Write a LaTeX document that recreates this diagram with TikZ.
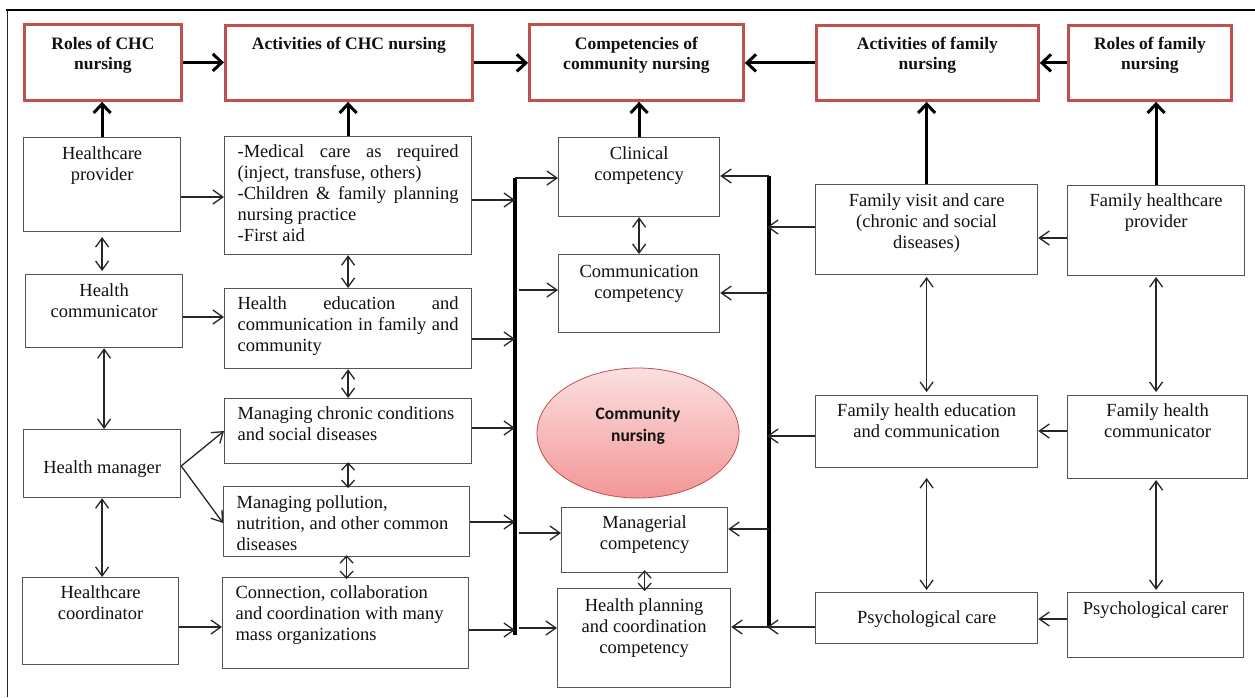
\documentclass[tikz,border=0pt]{standalone}
\usepackage{fontspec}
\setmainfont{Liberation Serif}
\newfontfamily\calib{Carlito}
\usetikzlibrary{arrows.meta,shapes.geometric}
\definecolor{redb}{HTML}{C0504D}
\definecolor{boxc}{HTML}{555555}
\definecolor{arrc}{HTML}{262626}
\definecolor{txtc}{HTML}{111111}
\newcommand{\bodyf}{\fontsize{18.5}{21}\selectfont}
\newcommand{\titf}{\fontsize{17.5}{20}\selectfont\bfseries}
% centred cell: width, height, top pad, text
\newcommand{\CB}[4]{\parbox[c][#2pt][t]{#1pt}{\vspace*{#3pt}\centering\strut #4\par}}
% left cell: width, height, top pad, text
\newcommand{\LB}[4]{\parbox[c][#2pt][t]{#1pt}{\vspace*{#3pt}\hspace*{13pt}\parbox[t]{\dimexpr#1pt-26pt\relax}{\strut #4}}}
\newcommand{\JL}[1]{\makebox[\linewidth][s]{#1}}
\begin{document}
\begin{tikzpicture}[x=1pt,y=-1pt,
  bx/.style={draw=boxc, line width=1.2pt, inner sep=0pt, anchor=north west, font=\bodyf, text=txtc},
  rbx/.style={draw=redb, line width=2.8pt, inner sep=0pt, anchor=north west, font=\titf, text=txtc},
  thk/.style={draw=black, line width=3pt, -{Straight Barb[length=9pt,width=17pt]}},
  ar/.style={draw=arrc, line width=1.3pt, -{Straight Barb[length=10pt,width=14pt]}},
  dar/.style={draw=arrc, line width=1.3pt, {Straight Barb[length=9pt,width=13pt]}-{Straight Barb[length=9pt,width=13pt]}},
  sdar/.style={draw=arrc, line width=1.3pt, {Straight Barb[length=7pt,width=13pt]}-{Straight Barb[length=7pt,width=13pt]}},
  barl/.style={draw=black, line width=3.8pt}]
\useasboundingbox (0,0) rectangle (1255,697);
\fill[white] (0,0) rectangle (1255,697);
% frame
\draw[line width=2.6pt] (6,10) -- (1255,10);
\draw[line width=1pt, draw=arrc] (7,10) -- (7,697);

% title boxes
\node[rbx] (rc) at (23,23) {\CB{157}{76}{10.8}{Roles of CHC\\nursing}};
\node[rbx] (ac) at (224,24) {\CB{247}{75}{9.8}{Activities of CHC nursing}};
\node[rbx] (cc) at (528,23) {\CB{214}{76}{10.8}{Competencies of\\community nursing}};
\node[rbx] (af) at (815,24) {\CB{222}{75}{9.8}{Activities of family\\nursing}};
\node[rbx] (rf) at (1067,24) {\CB{163}{75}{9.8}{Roles of family\\nursing}};

% left column: roles of CHC
\node[bx] (hp) at (23,137) {\CB{157}{94}{7.4}{Healthcare\\provider}};
\node[bx] (hc) at (25,274) {\CB{157}{73}{7.4}{Health\\communicator}};
\node[bx] (hm) at (23,429) {\CB{157}{68}{29.4}{Health manager}};
\node[bx] (hco) at (22,577) {\CB{156}{87}{6.4}{Healthcare\\coordinator}};

% activities of CHC
\node[bx] (a1) at (224,136) {\LB{247}{118}{6.4}{\JL{-Medical care as required}\\\mbox{(inject, transfuse, others)}\\\JL{-Children \& family planning}\\\mbox{nursing practice}\\\mbox{-First aid}}};
\node[bx] (a2) at (224,288) {\LB{247}{80}{6.4}{\JL{Health education and}\\\JL{communication in family and}\\\mbox{community}}};
\node[bx] (a3) at (224,398) {\LB{247}{65}{6.4}{\mbox{Managing chronic conditions}\\\mbox{and social diseases}}};
\node[bx] (a4) at (223,486) {\LB{246}{70}{7.4}{\mbox{Managing pollution,}\\\mbox{nutrition, and other common}\\\mbox{diseases}}};
\node[bx] (a5) at (222,577) {\LB{246}{91}{6.4}{\mbox{Connection, collaboration}\\\mbox{and coordination with many}\\\mbox{mass organizations}}};

% competencies
\node[bx] (cl) at (558,137) {\CB{161}{79}{7.4}{Clinical\\competency}};
\node[bx] (cm) at (558,254) {\CB{161}{78}{8.4}{Communication\\competency}};
\node[bx] (mg) at (561,507) {\CB{166}{65}{6.4}{Managerial\\competency}};
\node[bx] (hpl) at (557,588) {\CB{173}{99}{8.4}{Health planning\\and coordination\\competency}};

% central ellipse
\node[ellipse, draw=redb, line width=0.8pt, minimum width=202pt, minimum height=130pt,
      top color={rgb,255:red,251;green,224;blue,224}, bottom color={rgb,255:red,243;green,150;blue,150}] (cn) at (638,433) {};
\node[font=\calib\bfseries\fontsize{17.5}{22}\selectfont, align=center, text=txtc] (cnt) at (638,426) {Community\\nursing};

% family side
\node[bx] (fv) at (815,184) {\CB{222}{90}{7.4}{Family visit and care\\(chronic and social\\diseases)}};
\node[bx] (fhp) at (1067,185) {\CB{177}{90}{6.4}{Family healthcare\\provider}};
\node[bx] (fhe) at (815,395) {\CB{222}{72}{6.4}{Family health education\\and communication}};
\node[bx] (fhc) at (1067,395) {\CB{180}{83}{6.4}{Family health\\communicator}};
\node[bx] (pc) at (815,592) {\CB{222}{51}{16.4}{Psychological care}};
\node[bx] (pcr) at (1067,592) {\CB{176}{65}{7.4}{Psychological carer}};

% collector bars
\coordinate (lbt) at (515,178);
\coordinate (lbb) at (515,635);
\coordinate (rbt) at (769,176);
\coordinate (rbb) at (769,627);
\draw[barl] (lbb) -- (lbt);
\draw[barl] (rbb) -- (rbt);

% thick arrows, top row
\draw[thk] (rc.east) -- (rc.east -| ac.west);
\draw[thk] (ac.east) -- (ac.east -| cc.west);
\draw[thk] (af.west) -- (af.west -| cc.east);
\draw[thk] (rf.west) -- (rf.west -| af.east);
% thick arrows, upward
\draw[thk] (hp.north) -- (hp.north |- rc.south);
\draw[thk] (a1.north) -- (a1.north |- ac.south);
\draw[thk] (cl.north) -- (cl.north |- cc.south);
\draw[thk] (fv.north) -- (fv.north |- af.south);
\draw[thk] (fhp.north) -- (fhp.north |- rf.south);

% roles -> activities (CHC)
\draw[ar] (hp.east |- 0,197) -- (a1.west |- 0,197);
\draw[ar] (hc.east |- 0,317) -- (a2.west |- 0,317);
\draw[ar] (hm.east |- 0,466) -- (a3.west |- 0,431);
\draw[ar] (hm.east |- 0,466) -- (a4.west |- 0,523);
\draw[ar] (hco.east |- 0,627) -- (a5.west |- 0,627);

% activities -> left bar
\draw[ar] (a1.east |- 0,200) -- (lbt |- 0,200);
\draw[ar] (a2.east |- 0,339) -- (lbt |- 0,339);
\draw[ar] (a3.east |- 0,428) -- (lbt |- 0,428);
\draw[ar] (a4.east |- 0,522) -- (lbt |- 0,522);
\draw[ar] (a5.east |- 0,630) -- (lbt |- 0,630);

% left bar -> competencies
\draw[ar] (lbt) -- (lbt -| cl.west);
\draw[ar, shorten <=4pt] (lbt |- 0,290) -- (cm.west |- 0,290);
\draw[ar, shorten <=4pt] (lbt |- 0,533) -- (mg.west |- 0,533);
\draw[ar, shorten <=4pt] (lbt |- 0,628) -- (hpl.west |- 0,628);

% right bar -> competencies
\draw[ar] (rbt) -- (rbt -| cl.east);
\draw[ar] (rbt |- 0,293) -- (cm.east |- 0,293);
\draw[ar] (rbt |- 0,529) -- (mg.east |- 0,529);
\draw[ar] (rbb) -- (rbb -| hpl.east);

% family activities -> right bar
\draw[ar, shorten >=-2pt] (fv.west |- 0,227) -- (rbt |- 0,227);
\draw[ar, shorten >=-2pt] (fhe.west |- 0,436) -- (rbt |- 0,436);
\draw[ar, shorten >=-2pt] (pc.west |- 0,627) -- (rbt |- 0,627);

% family roles -> family activities
\draw[ar] (fhp.west |- 0,238) -- (fv.east |- 0,238);
\draw[ar] (fhc.west |- 0,431) -- (fhe.east |- 0,431);
\draw[ar] (pcr.west |- 0,619) -- (pc.east |- 0,619);

% double arrows
\draw[dar] (hp.south |- 0,237) -- (hp.south |- 0,271);
\draw[dar] (hc.south) -- (hc.south |- hm.north);
\draw[dar] (hm.south) -- (hm.south |- hco.north);
\draw[dar] (a1.south) -- (a1.south |- a2.north);
\draw[dar] (a2.south) -- (a2.south |- a3.north);
\draw[sdar, shorten <=-2pt, shorten >=-2pt] (a3.south) -- (a3.south |- a4.north);
\draw[sdar, shorten <=-2pt, shorten >=-2pt] (a4.south) -- (a4.south |- a5.north);
\draw[dar] (cl.south) -- (cl.south |- cm.north);
\draw[sdar, shorten <=-3pt, shorten >=-3pt] (mg.south) -- (mg.south |- hpl.north);
\draw[dar] (fv.south |- 0,277) -- (fv.south |- 0,392);
\draw[dar] (fhe.south |- 0,478) -- (fhe.south |- 0,590);
\draw[dar] (fhp.south |- 0,277) -- (fhp.south |- 0,392);
\draw[dar] (fhp.south |- 0,480) -- (fhp.south |- 0,590);
\end{tikzpicture}
\end{document}
